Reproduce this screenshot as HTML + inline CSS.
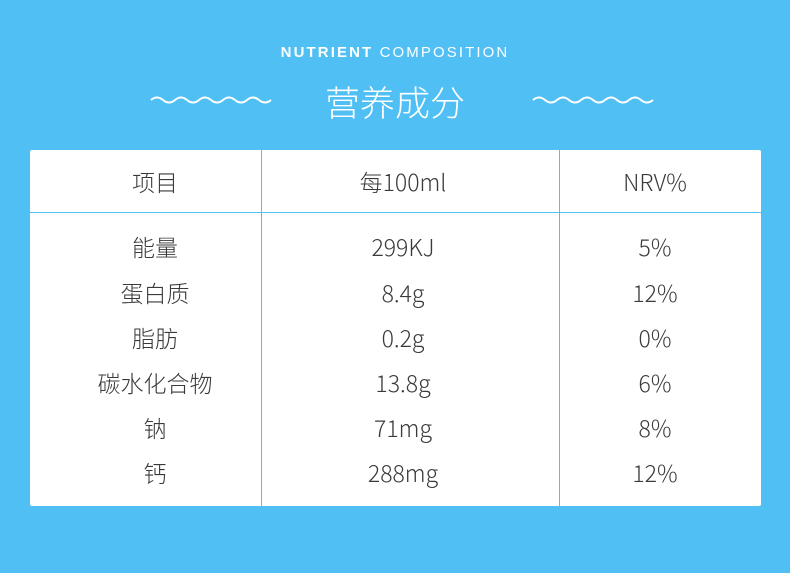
<!DOCTYPE html>
<html><head><meta charset="utf-8"><style>
body{margin:0;width:790px;height:573px;background:#4fbff4;position:relative;overflow:hidden;font-family:"Liberation Sans","Noto Sans CJK SC",sans-serif}
.abs{position:absolute}
.t{position:absolute;transform:translate(-50%,-50%);white-space:nowrap;color:#3a3a3a;font-size:23px;font-family:"Noto Sans CJK SC",sans-serif;font-weight:300}
</style></head><body>
<div class="abs" style="left:0;width:790px;top:44px;text-align:center;color:#fff;font-size:15px;letter-spacing:2.1px"><b>NUTRIENT</b> COMPOSITION</div>
<div class="abs" style="left:0;width:790px;top:76px;text-align:center;color:#fff;font-size:35px;font-weight:300;font-family:'Noto Sans CJK SC',sans-serif">营养成分</div>
<svg class="abs" style="left:0;top:0" width="790" height="140">
<path id="w" d="M151,100 q6,-5 12,0 t12,0 t12,0 t12,0 t12,0 t12,0 t12,0 t12,0 t12,0 t12,0" fill="none" stroke="#fff" stroke-width="2"/>
<use href="#w" x="382"/>
</svg>
<div class="abs" style="left:30px;top:150px;width:731px;height:356px;background:#fff;border-radius:2px"></div>
<div class="abs" style="left:30px;top:212px;width:731px;height:1px;background:#4fbff4"></div>
<div class="abs" style="left:261px;top:150px;width:1px;height:356px;background:#4fbff4"></div>
<div class="abs" style="left:559px;top:150px;width:1px;height:356px;background:#4fbff4"></div>
<div id="cells"></div>
<script>
const items=["项目","能量","蛋白质","脂肪","碳水化合物","钠","钙"];
const per100=["每100ml","299KJ","8.4g","0.2g","13.8g","71mg","288mg"];
const nrv=["NRV%","5%","12%","0%","6%","8%","12%"];
const ys=[181,246,292,337,382,427,472];
const xs=[155,403,655];
const c=document.getElementById('cells');
[items,per100,nrv].forEach((col,ci)=>col.forEach((v,ri)=>{
 const d=document.createElement('div');d.className='t';
 
 
 d.style.left=xs[ci]+'px';d.style.top=ys[ri]+'px';d.textContent=v;c.appendChild(d);
}));
</script>
</body></html>
